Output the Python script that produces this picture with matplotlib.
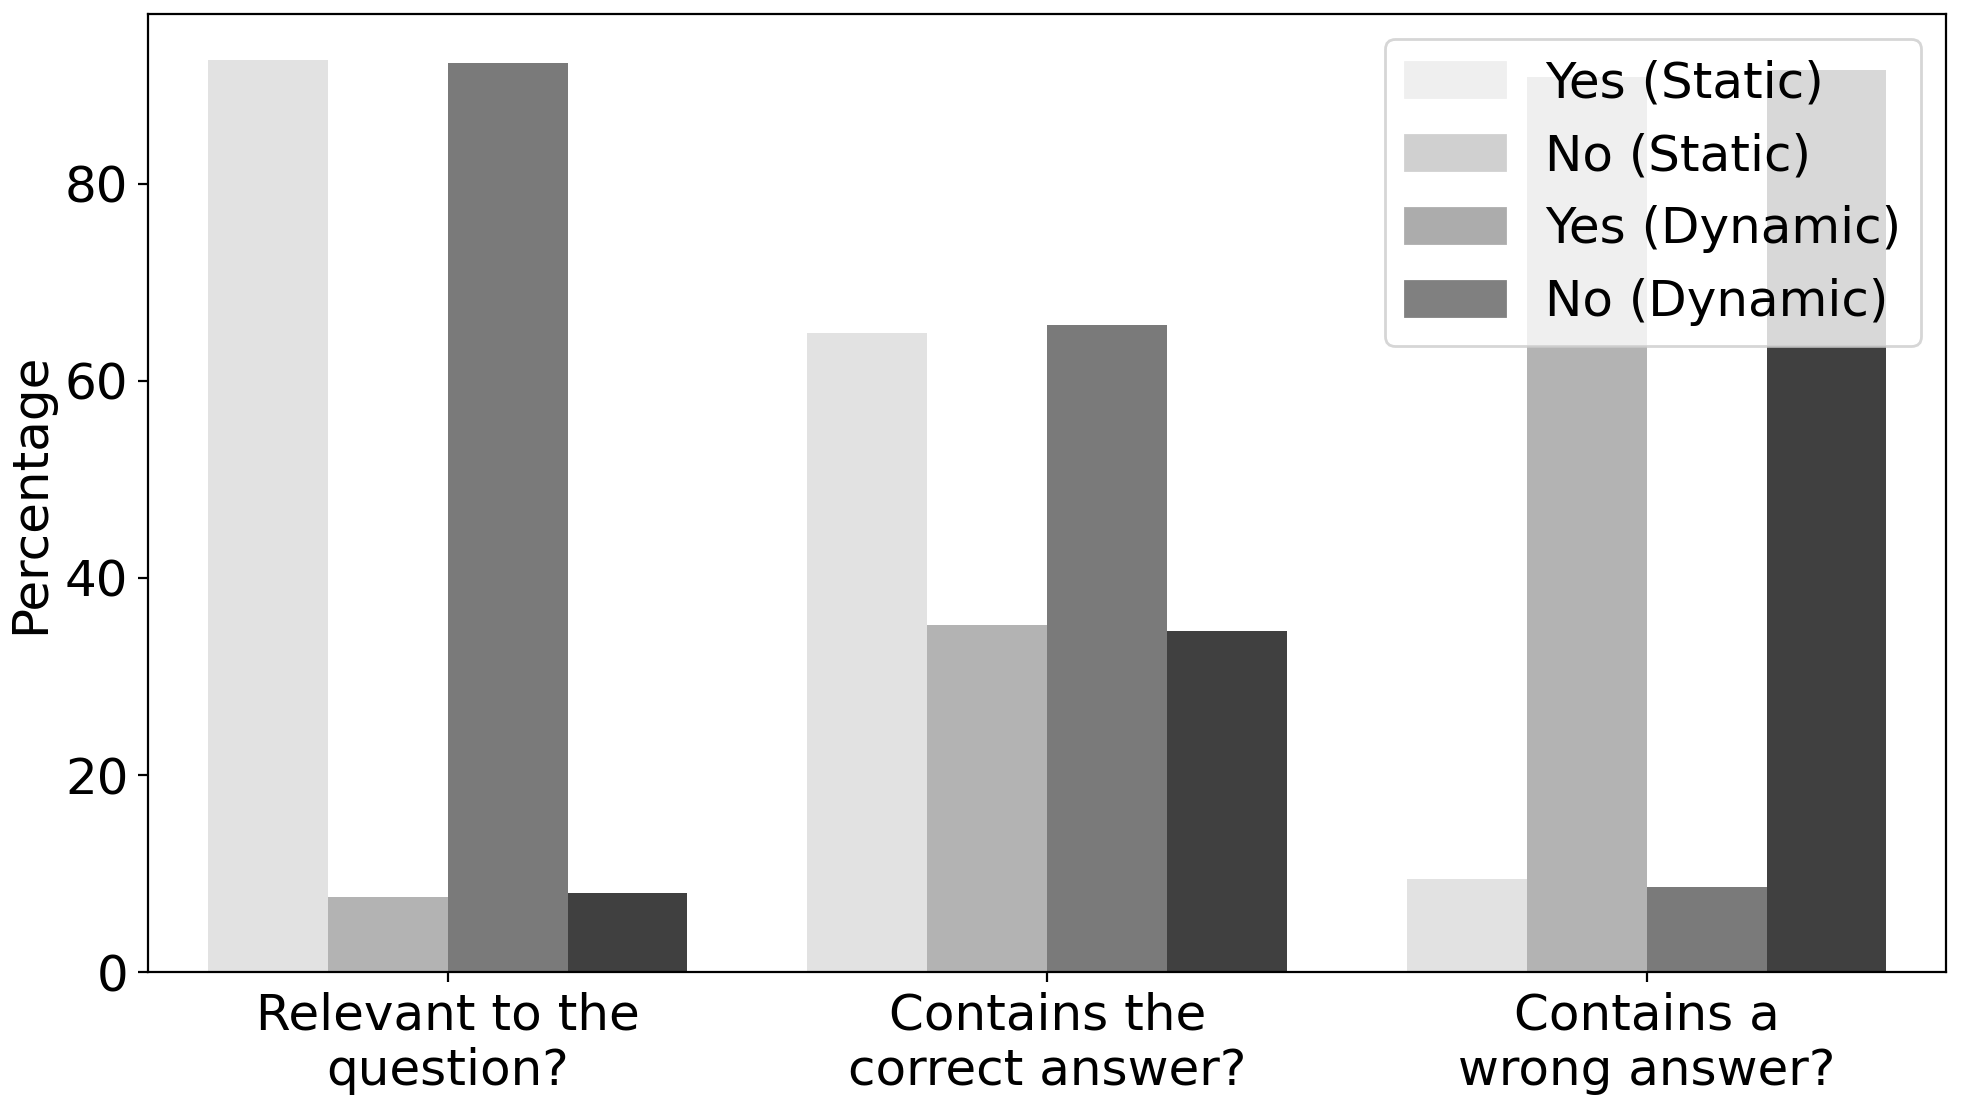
import numpy as np
import matplotlib
matplotlib.use("Agg")
import matplotlib.pyplot as plt
from matplotlib.patches import Patch

categories = ["Relevant to the\nquestion?", "Contains the\ncorrect answer?", "Contains a\nwrong answer?"]
series = ["Yes (Static)", "No (Static)", "Yes (Dynamic)", "No (Dynamic)"]
yes_static = [92.6, 64.9, 9.4]
no_static = [7.6, 35.2, 90.8]
yes_dynamic = [92.3, 65.7, 8.6]
no_dynamic = [8.0, 34.6, 91.6]
bar_colors = ["#e2e2e2", "#b3b3b3", "#7a7a7a", "#404040"]
legend_colors = ["#efefef", "#d0d0d0", "#acacac", "#808080"]

values = [yes_static, no_static, yes_dynamic, no_dynamic]

fig = plt.figure(figsize=(9.86, 5.48), dpi=200)
ax = fig.add_axes([0.075, 0.1131, 0.912, 0.874])

x = np.arange(len(categories))
width = 0.2
for i, vals in enumerate(values):
    ax.bar(x - 0.3 + i * width, vals, width, color=bar_colors[i], label=series[i])

ax.set_xticks(x)
ax.set_xticklabels(categories, fontsize=18)
ax.tick_params(axis="y", labelsize=18)
ax.set_xlim(-0.5, 2.5)
ax.set_ylabel("Percentage", fontsize=18)

handles = [Patch(color=c) for c in legend_colors]
ax.legend(handles, series, loc="upper right", fontsize=18)

fig.savefig("out.png", dpi=200)
